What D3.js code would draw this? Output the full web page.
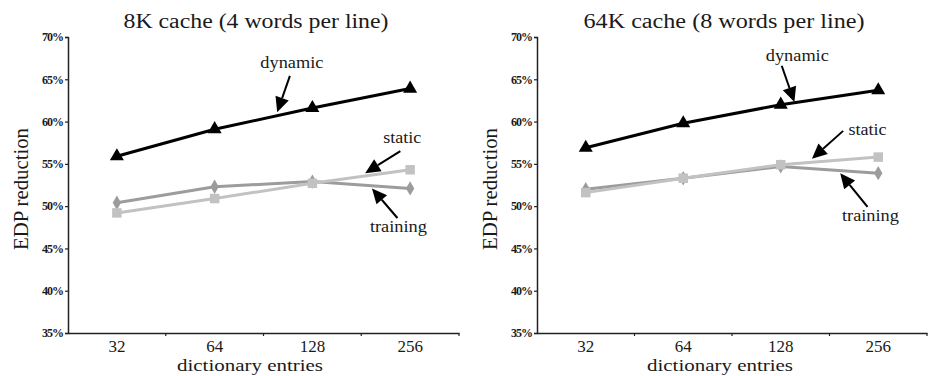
<!DOCTYPE html>
<html>
<head>
<meta charset="utf-8">
<script src="https://cdn.jsdelivr.net/npm/d3@7"></script>
<style>
  html, body { margin: 0; padding: 0; background: #fff; }
  svg { display: block; }
  svg text { font-family: "Liberation Serif", "Times New Roman", Times, serif !important; fill: #1a1a1a; }
</style>
</head>
<body>
<svg id="chart" width="929" height="376"></svg>
<script>
// ---- data ----
const categories = ["32", "64", "128", "256"];
const yTicks = [35, 40, 45, 50, 55, 60, 65, 70];
const titles = ["8K cache (4 words per line)", "64K cache (8 words per line)"];
const xTitle = "dictionary entries";
const yTitle = "EDP reduction";

// panel 1: 8K cache
const dynamic8K  = [55.9, 59.1, 61.6, 63.9];
const static8K   = [49.2, 50.9, 52.7, 54.3];
const training8K = [50.4, 52.3, 52.9, 52.1];
// panel 2: 64K cache
const dynamic64K  = [56.9, 59.8, 62.0, 63.7];
const static64K   = [51.6, 53.3, 54.9, 55.8];
const training64K = [52.0, 53.3, 54.7, 53.9];

// annotations: label, text anchor (band units, value), arrow tail, arrow tip
const notes8K = [
  { label: "dynamic",  text: [2.29, 66.3], tail: [2.27, 65.4], tip: [2.14, 61.1] },
  { label: "static",   text: [3.42, 57.5], tail: [3.40, 56.5], tip: [3.04, 53.9] },
  { label: "training", text: [3.38, 46.9], tail: [3.37, 48.6], tip: [3.11, 52.1] }
];
const notes64K = [
  { label: "dynamic",  text: [2.67, 67.2], tail: [2.51, 66.6], tip: [2.64, 62.3] },
  { label: "static",   text: [3.39, 58.4], tail: [3.14, 58.9], tip: [2.82, 55.6] },
  { label: "training", text: [3.42, 48.2], tail: [3.39, 49.9], tip: [3.11, 53.9] }
];

const panels = [
  { title: titles[0], dynamic: dynamic8K, stat: static8K, training: training8K, notes: notes8K,
    x0: 68, x1: 459, titleLen: 265, titleX: 256, xTitleX: 250, yTitleX: 28 },
  { title: titles[1], dynamic: dynamic64K, stat: static64K, training: training64K, notes: notes64K,
    x0: 537, x1: 927, titleLen: 281, titleX: 724, xTitleX: 720, yTitleX: 497 }
];

const FONT = "'Liberation Serif', 'Times New Roman', Times, serif";
const svg = d3.select("#chart");
const yTop = 37, yBot = 333;

panels.forEach(p => {
  const g = svg.append("g").attr("font-family", FONT);
  const x = d3.scaleBand().domain(categories).range([p.x0, p.x1]).paddingInner(0).paddingOuter(0);
  const y = d3.scaleLinear().domain([35, 70]).range([yBot, yTop]);
  const xu = d => p.x0 + d * x.step();

  // y axis
  const ya = g.append("g").attr("transform", `translate(${p.x0},0)`)
    .call(d3.axisLeft(y).tickValues(yTicks).tickFormat(d => d + "%").tickSize(3).tickPadding(2));
  ya.attr("font-family", FONT);
  ya.select(".domain").attr("stroke", "#222").attr("stroke-width", 1.5);
  ya.selectAll(".tick line").attr("stroke", "#222").attr("stroke-width", 1.2);
  ya.selectAll(".tick text")
    .style("font-size", "12px").style("letter-spacing", "-1px")
    .attr("fill", "#1a1a1a").attr("font-weight", "bold");

  // x axis: domain line + boundary ticks
  const xa = g.append("g").attr("transform", `translate(0,${yBot})`)
    .call(d3.axisBottom(x).tickSize(0).tickPadding(0).tickFormat(""));
  xa.select(".domain").attr("stroke", "#222").attr("stroke-width", 1.5);
  g.append("g").selectAll("line")
    .data(categories.slice(1).concat(["end"]))
    .join("line")
    .attr("x1", (d, i) => xu(i + 1)).attr("x2", (d, i) => xu(i + 1))
    .attr("y1", yBot).attr("y2", yBot + 3)
    .attr("stroke", "#222").attr("stroke-width", 1.2);
  g.append("g").selectAll("text")
    .data(categories).join("text")
    .attr("x", d => x(d) + x.bandwidth() / 2)
    .attr("y", yBot + 19)
    .attr("text-anchor", "middle")
    .style("font-size", "17px")
    .text(d => d);

  // titles
  g.append("text").attr("x", p.titleX).attr("y", 28).attr("text-anchor", "middle")
    .style("font-size", "20px")
    .attr("textLength", p.titleLen).attr("lengthAdjust", "spacingAndGlyphs")
    .text(p.title);
  g.append("text").attr("x", p.xTitleX).attr("y", 371).attr("text-anchor", "middle")
    .style("font-size", "16px")
    .attr("textLength", 146).attr("lengthAdjust", "spacingAndGlyphs")
    .text(xTitle);
  g.append("text")
    .attr("transform", `translate(${p.yTitleX},189) rotate(-90)`)
    .attr("text-anchor", "middle")
    .style("font-size", "20px")
    .attr("textLength", 122).attr("lengthAdjust", "spacingAndGlyphs")
    .text(yTitle);

  const cx = (d, i) => x(categories[i]) + x.bandwidth() / 2;
  const line = d3.line().x(cx).y(d => y(d));

  const series = [
    { vals: p.training, color: "#9c9c9c", sym: d3.symbolDiamond, size: 60 },
    { vals: p.stat, color: "#c2c2c2", sym: d3.symbolSquare, size: 90 },
    { vals: p.dynamic, color: "#000", sym: d3.symbolTriangle, size: 85 }
  ];
  series.forEach(s => {
    g.append("path").datum(s.vals).attr("d", line)
      .attr("fill", "none").attr("stroke", s.color).attr("stroke-width", 3);
  });
  series.forEach(s => {
    g.append("g").selectAll("path").data(s.vals).join("path")
      .attr("d", d3.symbol().type(s.sym).size(s.size))
      .attr("transform", (d, i) => `translate(${cx(d, i)},${y(d)})`)
      .attr("fill", s.color);
  });

  // annotations
  p.notes.forEach(n => {
    const tx = xu(n.tail[0]), ty = y(n.tail[1]);
    const hx = xu(n.tip[0]), hy = y(n.tip[1]);
    const ang = Math.atan2(hy - ty, hx - tx);
    const L = 15, W = 7;
    const bx = hx - L * Math.cos(ang), by = hy - L * Math.sin(ang);
    g.append("line").attr("x1", tx).attr("y1", ty).attr("x2", bx).attr("y2", by)
      .attr("stroke", "#000").attr("stroke-width", 2);
    const pts = [
      [hx, hy],
      [bx + W * Math.sin(ang), by - W * Math.cos(ang)],
      [bx - W * Math.sin(ang), by + W * Math.cos(ang)]
    ];
    g.append("path").attr("d", "M" + pts.map(q => q.join(",")).join("L") + "Z").attr("fill", "#000");
    const lens = { dynamic: 63, static: 38, training: 57 };
    g.append("text").attr("x", xu(n.text[0])).attr("y", y(n.text[1]))
      .attr("text-anchor", "middle").style("font-size", "16px")
      .attr("textLength", lens[n.label]).attr("lengthAdjust", "spacingAndGlyphs")
      .text(n.label);
  });
});
</script>
</body>
</html>
